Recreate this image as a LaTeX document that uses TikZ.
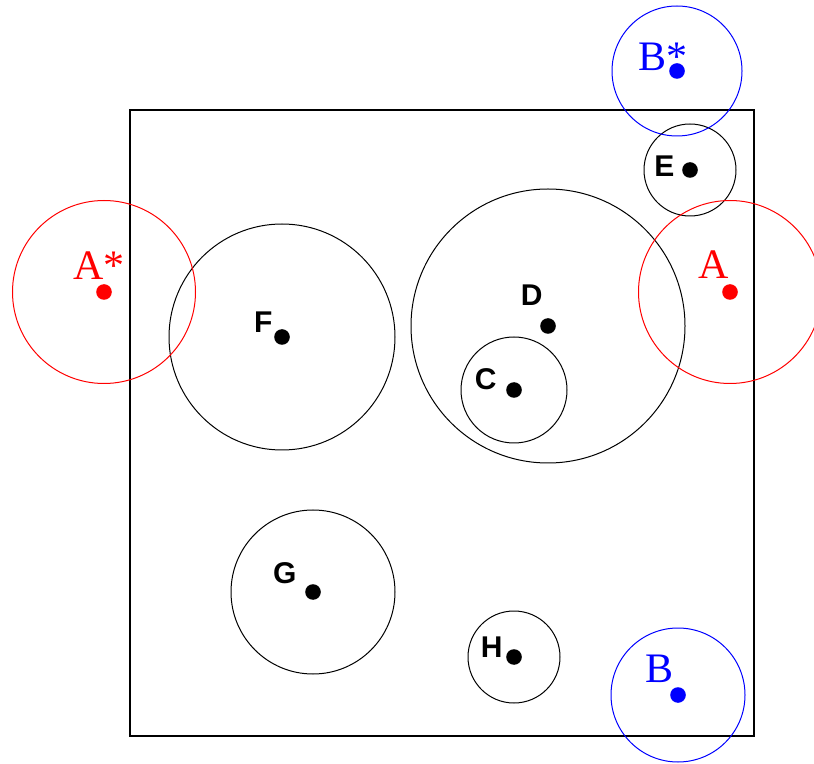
\documentclass[tikz,border=0pt]{standalone}
\usepackage{fontspec}
\setmainfont{Liberation Serif}
\setsansfont{Liberation Sans}
\usepackage{tikz}
\usetikzlibrary{positioning}

\begin{document}
\begin{tikzpicture}[x=0.5pt,y=-0.5pt,line width=0.5pt,
  spot/.style={circle,fill,inner sep=0pt,minimum size=7.8pt},
  ptlabel/.style={font=\sffamily\bfseries\fontsize{15}{17}\selectfont,anchor=base east,inner sep=0pt},
  starlabel/.style={font=\fontsize{21}{25}\selectfont,anchor=base west,inner sep=0pt}]
\useasboundingbox (0,0) rectangle (814,764);

% the domain
\draw[line width=0.6pt] (130,110) rectangle (754,736);

% points inside
\node[spot] (C) at (514,390) {};
\node[spot] (D) at (548,326) {};
\node[spot] (E) at (690,170) {};
\node[spot] (F) at (282,337) {};
\node[spot] (G) at (313,592) {};
\node[spot] (H) at (514,657) {};

\draw (C) circle[radius=53];
\draw (D) circle[radius=137];
\draw (E) circle[radius=46];
\draw (F) circle[radius=113];
\draw (G) circle[radius=82];
\draw (H) circle[radius=46];

\node[ptlabel] (Clab) at (497,390) {C};
\node[ptlabel] (Dlab) at (543,306) {D};
\node[ptlabel] (Elab) at (675,177) {E};
\node[ptlabel] (Flab) at (273,333) {F};
\node[ptlabel] (Glab) at (297,583) {G};
\node[ptlabel] (Hlab) at (503,657) {H};

% A, B and their mirror images
\node[spot,red] (A) at (730,292) {};
\node[spot,red] (Astar) at (104,292) {};
\node[spot,blue] (B) at (678,695) {};
\node[spot,blue] (Bstar) at (677,71) {};

\draw[red] (A) circle[radius=91.5];
\draw[red] (Astar) circle[radius=91.5];
\draw[blue] (B) circle[radius=67];
\draw[blue] (Bstar) circle[radius=65];

\node[starlabel,red] (Alab) at (698,279) {A};
\node[starlabel,red] (Astarlab) at (73,280) {A*};
\node[starlabel,blue] (Blab) at (645,682) {B};
\node[starlabel,blue] (Bstarlab) at (638,71) {B*};
\end{tikzpicture}
\end{document}
